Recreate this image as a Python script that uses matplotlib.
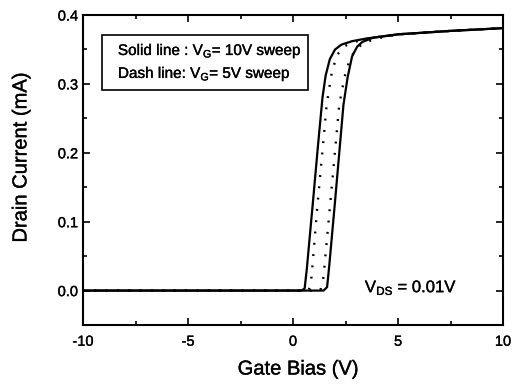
import matplotlib
matplotlib.use("Agg")
import matplotlib.pyplot as plt
import matplotlib.patheffects as pe
from matplotlib.patches import Rectangle
from matplotlib.ticker import MultipleLocator, FormatStrFormatter

plt.rcParams['font.family'] = ['Liberation Sans', 'DejaVu Sans']
plt.rcParams['mathtext.fontset'] = 'custom'
plt.rcParams['mathtext.rm'] = 'Liberation Sans'
plt.rcParams['axes.unicode_minus'] = False

# 10V sweep (solid), forward and reverse
solid_fwd_x = [-10, 0.4, 0.55, 0.65, 0.95, 1.2, 1.4, 1.55, 1.75, 2.0, 2.3, 2.8, 3.5, 5, 7.5, 10]
solid_fwd_y = [0, 0, 0.003, 0.03, 0.13, 0.215, 0.28, 0.312, 0.336, 0.35, 0.357, 0.362, 0.366, 0.372, 0.377, 0.381]
solid_rev_x = [-10, 1.45, 1.62, 1.72, 2.0, 2.4, 2.6, 2.81, 3.05, 3.3, 3.8, 5, 7.5, 10]
solid_rev_y = [0, 0, 0.005, 0.035, 0.13, 0.27, 0.31, 0.34, 0.354, 0.361, 0.367, 0.372, 0.377, 0.381]

# 5V sweep (dotted), forward and reverse
dot_fwd_x = [-10, 0.75, 0.88, 1.15, 1.6, 1.85, 2.1, 2.4, 2.8, 3.3, 4, 5, 7.5, 10]
dot_fwd_y = [0, 0, 0.02, 0.12, 0.27, 0.318, 0.342, 0.354, 0.36, 0.364, 0.368, 0.372, 0.377, 0.381]
dot_rev_x = [-10, 1.3, 1.45, 1.75, 2.2, 2.45, 2.7, 3.0, 3.4, 4, 5, 7.5, 10]
dot_rev_y = [0, 0, 0.02, 0.12, 0.27, 0.31, 0.336, 0.351, 0.36, 0.366, 0.372, 0.377, 0.381]

fig = plt.figure(figsize=(5.29, 3.86), dpi=100)
ax = fig.add_axes([0.157, 0.158, 0.794, 0.803])

ax.plot(solid_fwd_x, solid_fwd_y, color='black', lw=1.6)
ax.plot(solid_rev_x, solid_rev_y, color='black', lw=1.6)
ax.plot(dot_fwd_x, dot_fwd_y, color='black', lw=1.7, linestyle=(0, (0.8, 4)))
ax.plot(dot_rev_x, dot_rev_y, color='black', lw=1.7, linestyle=(0, (0.8, 4)))

ax.set_xlim(-10, 10)
ax.set_ylim(-0.05, 0.4)
ax.xaxis.set_major_locator(MultipleLocator(5))
ax.xaxis.set_minor_locator(MultipleLocator(2.5))
ax.yaxis.set_major_locator(MultipleLocator(0.1))
ax.yaxis.set_minor_locator(MultipleLocator(0.05))
ax.yaxis.set_major_formatter(FormatStrFormatter('%.1f'))
ax.tick_params(which='both', direction='in', top=True, right=True, width=1.2, labelsize=10.5)
ax.tick_params(which='major', length=5)
ax.tick_params(axis='x', which='major', pad=7)
ax.tick_params(which='minor', length=3)
for s in ax.spines.values():
    s.set_linewidth(1.5)

ax.set_xlabel('Gate Bias (V)', fontsize=14.5, va='center')
ax.set_ylabel('Drain Current (mA)', fontsize=14.5, va='center')
ax.xaxis.set_label_coords(0.512, -0.142)
ax.yaxis.set_label_coords(-0.148, 0.54)

ax.add_patch(Rectangle((0.045, 0.758), 0.49, 0.177, transform=ax.transAxes,
                       fill=False, ec='black', lw=1.2))
ax.text(0.083, 0.871, r'Solid line : V$_\mathregular{G}$= 10V sweep', transform=ax.transAxes,
        fontsize=11, va='baseline')
ax.text(0.083, 0.797, r'Dash line: V$_\mathregular{G}$= 5V sweep', transform=ax.transAxes,
        fontsize=11, va='baseline')
ax.text(0.671, 0.106, r'V$_\mathregular{DS}$ = 0.01V', transform=ax.transAxes,
        fontsize=12, va='baseline')

# slightly heavier text like the scanned original
heavy = [pe.withStroke(linewidth=0.25, foreground='black')]
for t in ax.texts + ax.get_xticklabels() + ax.get_yticklabels() + [ax.xaxis.label, ax.yaxis.label]:
    t.set_path_effects(heavy)

fig.savefig('out.png', dpi=100)
